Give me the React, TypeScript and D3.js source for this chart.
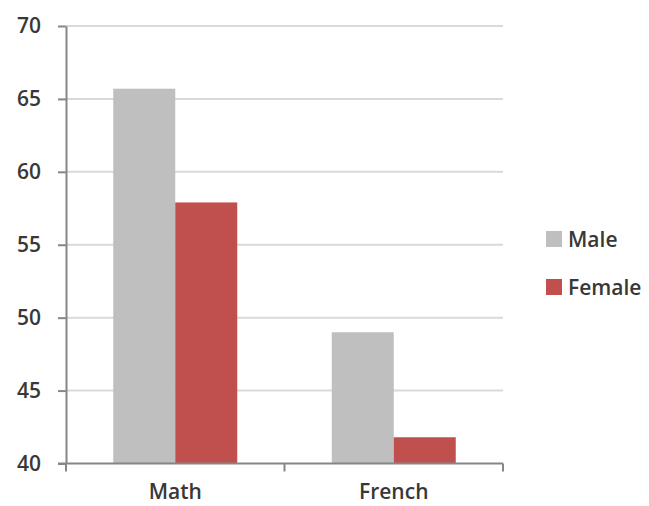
import React, { useEffect, useRef } from 'react';
import * as d3 from 'd3';

const subjects = ['Math', 'French'];
const seriesNames = ['Male', 'Female'];
const maleScores = [65.7, 49.0];
const femaleScores = [57.9, 41.8];
const yTicks = [40, 45, 50, 55, 60, 65, 70];
const colors = ['#bfbfbf', '#c0504d'];

const App: React.FC = () => {
  const ref = useRef<SVGSVGElement>(null);

  useEffect(() => {
    if (!ref.current) return;
    const svg = d3.select(ref.current);
    svg.selectAll('*').remove();

    const left = 66, right = 503, top = 26, bottom = 463.5;
    const font = "'Open Sans', 'Liberation Sans', sans-serif";
    const fs = '21px';
    const txt = '#383838';

    const x0 = d3.scaleBand<string>().domain(subjects).range([left, right])
      .paddingInner(0.4325).paddingOuter(0.21625);
    const x1 = d3.scaleBand<string>().domain(seriesNames).range([0, x0.bandwidth()]);
    const y = d3.scaleLinear().domain([40, 70]).range([bottom, top]);

    // gridlines
    svg.append('g').selectAll('line')
      .data(yTicks.filter(t => t > 40))
      .enter().append('line')
      .attr('x1', left).attr('x2', right)
      .attr('y1', d => y(d)).attr('y2', d => y(d))
      .attr('stroke', '#d9d9d9').attr('stroke-width', 2);

    // bars
    const rows = subjects.map((s, i) => ({ s, vals: [maleScores[i], femaleScores[i]] }));
    const grp = svg.append('g').selectAll('g').data(rows).enter().append('g')
      .attr('transform', d => `translate(${x0(d.s)},0)`);
    grp.selectAll('rect')
      .data(d => d.vals.map((v, j) => ({ name: seriesNames[j], v, j })))
      .enter().append('rect')
      .attr('x', d => x1(d.name)!)
      .attr('width', x1.bandwidth())
      .attr('y', d => y(d.v))
      .attr('height', d => y(40) - y(d.v))
      .attr('fill', d => colors[d.j]);

    // y axis
    const yAxis = svg.append('g').attr('transform', `translate(${left},0)`)
      .call(d3.axisLeft(y).tickValues(yTicks).tickSize(8).tickPadding(17).tickSizeOuter(0));
    yAxis.select('.domain').attr('stroke', '#868686').attr('stroke-width', 2);
    yAxis.selectAll('.tick line').attr('stroke', '#868686').attr('stroke-width', 2);
    yAxis.selectAll('.tick text')
      .attr('fill', txt).style('font-size', fs).style('font-family', font).style('font-weight', 600);

    // x axis
    svg.append('line').attr('x1', left - 8).attr('x2', right)
      .attr('y1', bottom).attr('y2', bottom)
      .attr('stroke', '#868686').attr('stroke-width', 2);
    const boundaries = [left, ...subjects.map(s => x0(s)! + x0.bandwidth() + x0.step() * x0.paddingInner() / 2)];
    svg.append('g').selectAll('line').data(boundaries.slice(0, 3))
      .enter().append('line')
      .attr('x1', (d, i) => i === boundaries.length - 1 ? right : d)
      .attr('x2', (d, i) => i === boundaries.length - 1 ? right : d)
      .attr('y1', bottom).attr('y2', bottom + 8)
      .attr('stroke', '#868686').attr('stroke-width', 2);
    svg.append('g').selectAll('text').data(subjects)
      .enter().append('text')
      .attr('x', d => x0(d)! + x0.bandwidth() / 2)
      .attr('y', 499)
      .attr('text-anchor', 'middle')
      .attr('fill', txt).style('font-size', fs).style('font-family', font).style('font-weight', 600)
      .text(d => d);

    // legend
    const leg = svg.append('g').selectAll('g').data(seriesNames)
      .enter().append('g')
      .attr('transform', (d, i) => `translate(546,${231 + i * 48})`);
    leg.append('rect').attr('width', 16).attr('height', 16)
      .attr('fill', (d, i) => colors[i]);
    leg.append('text').attr('x', 22).attr('y', 16)
      .attr('fill', txt).style('font-size', fs).style('font-family', font).style('font-weight', 600)
      .text(d => d);
  }, []);

  return (
    <svg ref={ref} width={649} height={506}
      style={{ position: 'absolute', left: 0, top: 0, background: '#fff' }} />
  );
};

export default App;
